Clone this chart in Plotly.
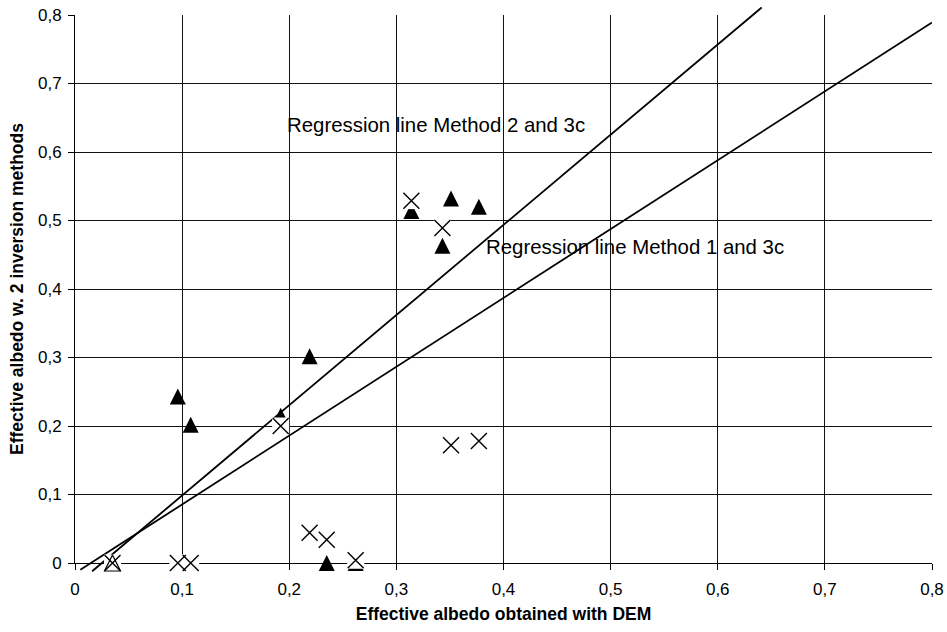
import plotly.graph_objects as go

# ---------------- data ----------------
dem_albedo = [0.035, 0.096, 0.108, 0.192, 0.219, 0.235, 0.262, 0.314, 0.343, 0.351, 0.377]
method1_albedo = [0.0, 0.0, 0.0, 0.200, 0.044, 0.034, 0.004, 0.529, 0.489, 0.172, 0.178]
method2_albedo = [0.0, 0.243, 0.202, 0.215, 0.302, 0.0, 0.0, 0.514, 0.463, 0.532, 0.520]

reg2_x = [0.016, 0.641]
reg2_y = [-0.012, 0.811]
reg1_x = [0.005, 0.800]
reg1_y = [-0.010, 0.789]

tick_vals = [0, 0.1, 0.2, 0.3, 0.4, 0.5, 0.6, 0.7, 0.8]
tick_text = ["0", "0,1", "0,2", "0,3", "0,4", "0,5", "0,6", "0,7", "0,8"]

label_m2 = "Regression line Method 2 and 3c"
label_m1 = "Regression line Method 1 and 3c"
x_title = "Effective albedo obtained with DEM"
y_title = "Effective albedo w. 2 inversion methods"

# ---------------- geometry ----------------
W, H = 947, 632
ML, MR, MT, MB = 75, 15, 5, 59
plot_top_px, plot_bot_px = 15, 563          # main axes area (y = 0.8 .. 0)
area_top, area_bot = MT, H - MB             # extended drawing area
area_h = area_bot - area_top
y_lo, y_hi = 0.0, 0.8
px_per_unit = (plot_bot_px - plot_top_px) / (y_hi - y_lo)
dom0 = (area_bot - plot_bot_px) / area_h
dom1 = (area_bot - plot_top_px) / area_h
y2_range = [y_lo - (area_bot - plot_bot_px) / px_per_unit,
            y_hi + (plot_top_px - area_top) / px_per_unit]

FONT = "Liberation Sans, Arial, sans-serif"
GRID = "#111111"

fig = go.Figure()

# regression lines
fig.add_trace(go.Scatter(x=reg2_x, y=reg2_y, mode="lines", xaxis="x2", yaxis="y2",
                         line=dict(color="black", width=1.8), showlegend=False, hoverinfo="skip"))
fig.add_trace(go.Scatter(x=reg1_x, y=reg1_y, mode="lines", xaxis="x2", yaxis="y2",
                         line=dict(color="black", width=1.8), showlegend=False, hoverinfo="skip"))

# method 2 : filled triangles
fig.add_trace(go.Scatter(x=dem_albedo[1:], y=method2_albedo[1:], mode="markers", xaxis="x2", yaxis="y2",
                         marker=dict(symbol="arrow-down", angle=180, standoff=8, size=16,
                                     color="black", line=dict(width=0)),
                         showlegend=False))

# white marker background of the X series
fig.add_trace(go.Scatter(x=dem_albedo, y=method1_albedo, mode="markers", xaxis="x2", yaxis="y2",
                         marker=dict(symbol="square", size=17, color="white", line=dict(width=0)),
                         showlegend=False, hoverinfo="skip"))

# first triangle drawn as outline
fig.add_trace(go.Scatter(x=dem_albedo[:1], y=method2_albedo[:1], mode="markers", xaxis="x2", yaxis="y2",
                         marker=dict(symbol="arrow-down", angle=180, standoff=8, size=16,
                                     color="white", line=dict(width=1.2, color="black")),
                         showlegend=False))

# method 1 : X markers
fig.add_trace(go.Scatter(x=dem_albedo, y=method1_albedo, mode="markers", xaxis="x2", yaxis="y2",
                         marker=dict(symbol="x-thin", size=16, color="black",
                                     line=dict(width=1.4, color="black")),
                         showlegend=False))

axis_common = dict(range=[y_lo, y_hi], tickmode="array", tickvals=tick_vals, ticktext=tick_text,
                   showgrid=True, gridcolor=GRID, gridwidth=1, zeroline=False,
                   showline=True, linecolor="black", linewidth=1,
                   ticks="outside", ticklen=6, tickcolor="black", tickwidth=1,
                   tickfont=dict(family=FONT, size=17, color="black"),
                   automargin=False, fixedrange=True)

fig.update_layout(
    width=W, height=H,
    margin=dict(l=ML, r=MR, t=MT, b=MB, pad=0),
    paper_bgcolor="white", plot_bgcolor="rgba(0,0,0,0)",
    showlegend=False,
    xaxis=dict(domain=[0, 1], anchor="y", ticklabelstandoff=5,
               title=dict(text=x_title, font=dict(family=FONT, size=17.5, color="black", weight="bold"),
                          standoff=9),
               **axis_common),
    yaxis=dict(domain=[dom0, dom1], anchor="x", ticklabelstandoff=3,
               title=dict(text=y_title, font=dict(family=FONT, size=17.5, color="black", weight="bold"),
                          standoff=9),
               **axis_common),
    xaxis2=dict(domain=[0, 1], anchor="y2", range=[y_lo, y_hi], visible=False, fixedrange=True),
    yaxis2=dict(domain=[0, 1], anchor="x2", range=y2_range, visible=False, fixedrange=True),
    annotations=[
        dict(text=label_m2, x=0.196, y=0.639, xref="x", yref="y", xanchor="left", yanchor="middle",
             showarrow=False, font=dict(family=FONT, size=20.4, color="black")),
        dict(text=label_m1, x=0.382, y=0.461, xref="x", yref="y", xanchor="left", yanchor="middle",
             showarrow=False, font=dict(family=FONT, size=20.4, color="black")),
    ],
)

fig.write_html("out.html", config={"displayModeBar": False, "staticPlot": True},
               post_script="document.body.style.margin='0';document.body.style.overflow='hidden';")
